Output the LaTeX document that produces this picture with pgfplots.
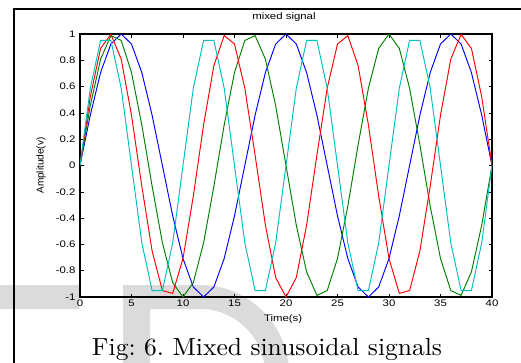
\documentclass[border=0pt]{standalone}
\usepackage{fontspec}
\usepackage{pgfplots}
\usepackage{pgfplotstable}
\pgfplotsset{compat=1.18}
\newfontfamily\axfont{Liberation Sans}
\definecolor{mblue}{rgb}{0,0,1}
\definecolor{mgreen}{rgb}{0,0.5,0}
\definecolor{mred}{rgb}{1,0,0}
\definecolor{mcyan}{rgb}{0,0.75,0.75}
\definecolor{wmark}{gray}{0.86}
% axis text is set slightly wide
\newcommand\wide[1]{\scalebox{1.2}[1]{#1}}

% four sampled sinusoids, one sample per second
\pgfplotstableread{
x  b        g        r        c
0  0        0        0        0
1  0.3827   0.4540   0.5225   0.5878
2  0.7071   0.8090   0.8910   0.9511
3  0.9239   0.9877   0.9969   0.9511
4  1        0.9511   0.8090   0.5878
5  0.9239   0.7071   0.3827   0
6  0.7071   0.3090  -0.1564  -0.5878
7  0.3827  -0.1564  -0.6494  -0.9511
8  0       -0.5878  -0.9511  -0.9511
9  -0.3827 -0.8910  -0.9724  -0.5878
10 -0.7071 -1       -0.7071   0
11 -0.9239 -0.8910  -0.2334   0.5878
12 -1      -0.5878   0.3090   0.9511
13 -0.9239 -0.1564   0.7604   0.9511
14 -0.7071  0.3090   0.9877   0.5878
15 -0.3827  0.7071   0.9239   0
16 0        0.9511   0.5878  -0.5878
17 0.3827   0.9877   0.0785  -0.9511
18 0.7071   0.8090  -0.4540  -0.9511
19 0.9239   0.4540  -0.8526  -0.5878
20 1        0       -1        0
21 0.9239  -0.4540  -0.8526   0.5878
22 0.7071  -0.8090  -0.4540   0.9511
23 0.3827  -0.9877   0.0785   0.9511
24 0       -0.9511   0.5878   0.5878
25 -0.3827 -0.7071   0.9239   0
26 -0.7071 -0.3090   0.9877  -0.5878
27 -0.9239  0.1564   0.7604  -0.9511
28 -1       0.5878   0.3090  -0.9511
29 -0.9239  0.8910  -0.2334  -0.5878
30 -0.7071  1       -0.7071   0
31 -0.3827  0.8910  -0.9724   0.5878
32 0        0.5878  -0.9511   0.9511
33 0.3827   0.1564  -0.6494   0.9511
34 0.7071  -0.3090  -0.1564   0.5878
35 0.9239  -0.7071   0.3827   0
36 1       -0.9511   0.8090  -0.5878
37 0.9239  -0.9877   0.9969  -0.9511
38 0.7071  -0.8090   0.8910  -0.9511
39 0.3827  -0.4540   0.5225  -0.5878
40 0        0        0        0
}\signals

\begin{document}
\begin{tikzpicture}[x=1pt,y=1pt]
\useasboundingbox (0,0) rectangle (521,362);
\begin{scope}
  \clip (0,0) rectangle (521,362);
  % light background lettering
  \fill[wmark] (-5,53) rectangle (79,77);
  \fill[wmark] (123,-5) -- (123,77) -- (200,77)
      arc[start angle=90,end angle=0,radius=89] -- (265,-12)
      arc[start angle=0,end angle=90,radius=65] -- (150,53) -- (150,-5) -- cycle;
  % page frame
  \draw[line width=2pt] (14,-5) -- (14,353) -- (530,353);
\end{scope}

\begin{axis}[
  at={(80pt,65pt)}, anchor=south west,
  width=412pt, height=263pt, scale only axis,
  xmin=0, xmax=40, ymin=-1, ymax=1,
  xtick={0,5,...,40},
  ytick={-1,-0.8,-0.6,-0.4,-0.2,0,0.2,0.4,0.6,0.8,1},
  /pgf/number format/assume math mode=true,
  xticklabel={\wide{\pgfmathprintnumber{\tick}}},
  yticklabel={\wide{\pgfmathprintnumber{\tick}}},
  tick align=inside, major tick length=3.5pt,
  every tick/.style={black, line width=0.6pt},
  axis line style={line width=1.2pt},
  tick label style={font=\axfont\fontsize{9.5}{11}\selectfont},
  xticklabel style={yshift=0.5pt},
  yticklabel style={xshift=-1pt},
  title={\wide{mixed signal}},
  title style={font=\axfont\fontsize{9.5}{11}\selectfont, at={(axis description cs:0.495,1.042)}, anchor=center},
  xlabel={\wide{Time(s)}},
  xlabel style={font=\axfont\fontsize{9.5}{11}\selectfont, at={(axis description cs:0.493,-0.0837)}, anchor=center},
  ylabel={Amplitude(v)},
  ylabel style={font=\axfont\fontsize{10}{12}\selectfont, at={(axis description cs:-0.0947,0.5)}, anchor=center},
  every axis plot/.append style={line width=0.95pt, no markers},
]
\addplot[mblue]  table[x=x,y=b] {\signals};
\addplot[mgreen] table[x=x,y=g] {\signals};
\addplot[mred]   table[x=x,y=r] {\signals};
\addplot[mcyan]  table[x=x,y=c] {\signals};
\end{axis}

\node[anchor=base, inner sep=0pt] at (267,6.3)
  {\resizebox{350pt}{17.2pt}{\fontsize{10}{12}\selectfont\frenchspacing Fig: 6. Mixed sinusoidal signals}};
\end{tikzpicture}
\end{document}
